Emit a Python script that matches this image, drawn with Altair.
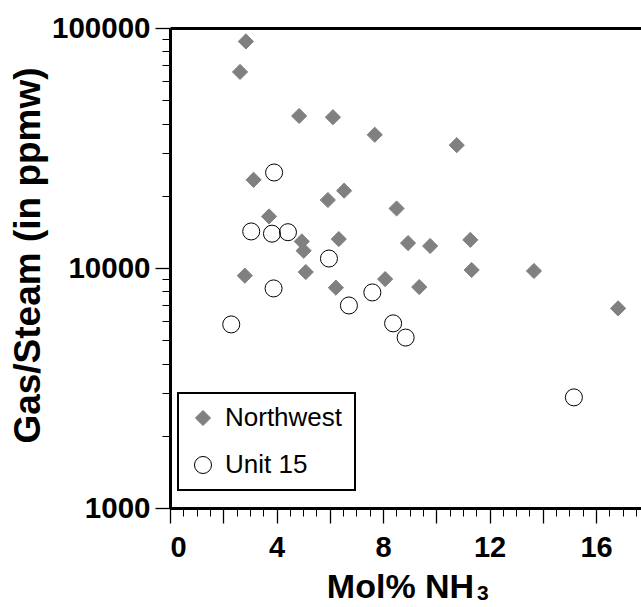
import altair as alt
import pandas as pd

# ---- data ----
series_names = ["Northwest", "Unit 15"]

nw_x = [2.85, 2.63, 4.85, 6.12, 7.69, 10.77, 3.14, 6.54, 5.93, 8.51, 3.72, 4.95,
        5.02, 6.34, 8.94, 9.77, 11.28, 2.81, 5.10, 11.33, 13.67, 8.08, 6.23, 9.36, 16.83]
nw_y = [87900, 65600, 43000, 42500, 35900, 32500, 23300, 21000, 19200, 17700, 16400, 12900,
        11800, 13200, 12700, 12350, 13100, 9290, 9620, 9810, 9720, 8990, 8280, 8330, 6790]

u15_x = [3.91, 3.05, 3.83, 4.43, 5.97, 3.89, 2.30, 6.72, 7.60, 8.38, 8.85, 15.17]
u15_y = [25000, 14200, 13900, 14100, 10950, 8220, 5820, 6980, 7910, 5880, 5130, 2890]

x_major_ticks = [0, 2, 4, 6, 8, 10, 12, 14, 16]
x_minor_ticks = [0.5 * i for i in range(0, 36)]
y_major_ticks = [1000, 10000, 100000]
y_minor_ticks = [2000, 3000, 4000, 5000, 6000, 7000, 8000, 9000,
                 20000, 30000, 40000, 50000, 60000, 70000, 80000, 90000]

x_title_main = "Mol% NH"
x_title_sub = ["3"]

df = pd.DataFrame({
    "x": nw_x + u15_x,
    "y": nw_y + u15_y,
    "series": [series_names[0]] * len(nw_x) + [series_names[1]] * len(u15_x),
})

FONT = "Liberation Sans"
xscale = alt.Scale(domain=[0, 17.69], nice=False, zero=False)
yscale = alt.Scale(type="log", domain=[1000, 100000], nice=False)

leg = alt.Legend(
    title=None, orient="none", legendX=8, legendY=365, direction="vertical",
    fillColor="white", strokeColor="black", padding=12,
    labelFont=FONT, labelFontSize=26, labelColor="black", labelOffset=9,
    rowPadding=21, symbolStrokeWidth=1,
)

points = alt.Chart(df).mark_point(opacity=1, strokeWidth=1).encode(
    x=alt.X("x:Q", scale=xscale, axis=alt.Axis(
        orient="bottom", values=x_major_ticks, grid=False,
        tickSize=15, tickWidth=1.3, tickColor="black",
        domainWidth=3, domainColor="black",
        labelExpr="datum.value % 4 == 0 ? datum.label : ''",
        labelFont=FONT, labelFontSize=29, labelFontWeight="bold", labelColor="black",
        labelPadding=10,
        title=x_title_main, titleFont=FONT, titleFontSize=34, titleFontWeight="bold",
        titleColor="black", titleX=230, titleY=89, titleBaseline="alphabetic",
        titleAlign="center")),
    y=alt.Y("y:Q", scale=yscale, axis=alt.Axis(
        orient="left", values=y_major_ticks, format="d", grid=False,
        tickSize=15, tickWidth=1.3, tickColor="black",
        domainWidth=3, domainColor="black",
        labelFont=FONT, labelFontSize=29.5, labelFontWeight="bold", labelColor="black",
        labelPadding=5,
        title="Gas/Steam (in ppmw)", titleFont=FONT, titleFontSize=37,
        titleFontWeight="bold", titleColor="black", titleAngle=270,
        titleX=-131, titleY=227, titleBaseline="alphabetic", titleAlign="center")),
    shape=alt.Shape("series:N", scale=alt.Scale(domain=series_names, range=["diamond", "circle"]), legend=leg),
    fill=alt.Fill("series:N", scale=alt.Scale(domain=series_names, range=["#808080", "transparent"]), legend=leg),
    stroke=alt.Stroke("series:N", scale=alt.Scale(domain=series_names, range=["#808080", "black"]), legend=leg),
    size=alt.Size("series:N", scale=alt.Scale(domain=series_names, range=[230, 290]), legend=leg),
)

minor = alt.Chart(df).mark_point(opacity=0).encode(
    x=alt.X("x:Q", scale=xscale, axis=alt.Axis(
        orient="bottom", values=x_minor_ticks, grid=False, labels=False, domain=False,
        tickSize=8, tickWidth=1, tickColor="black", title=None)),
    y=alt.Y("y:Q", scale=yscale, axis=alt.Axis(
        orient="left", values=y_minor_ticks, grid=False, labels=False, domain=False,
        tickSize=8, tickWidth=1, tickColor="black", title=None)),
)

top = alt.Chart(df).mark_point(opacity=0).encode(
    x=alt.X("x:Q", scale=xscale, axis=alt.Axis(
        orient="top", grid=False, labels=False, ticks=False, domain=True,
        domainWidth=3, domainColor="black", title=None)),
    y=alt.Y("y:Q", scale=yscale, axis=None),
)

# subscript "3" of the x-axis title
sub = alt.Chart(pd.DataFrame({"t": x_title_sub})).mark_text(
    font=FONT, fontSize=21, fontWeight="bold", color="black",
    align="left", baseline="alphabetic",
).encode(text="t:N", x=alt.value(307), y=alt.value(572))

chart = alt.layer(points, minor, top, sub).resolve_scale(
    x="shared", y="shared"
).resolve_axis(
    x="independent", y="independent"
).properties(
    width=471, height=480,
    autosize=alt.AutoSizeParams(type="none"),
    padding={"left": 170, "top": 28, "right": 0, "bottom": 99},
).configure_view(stroke=None).configure_legend(strokeWidth=2)

chart.save("out.html", embed_options={"renderer": "svg", "actions": False})
